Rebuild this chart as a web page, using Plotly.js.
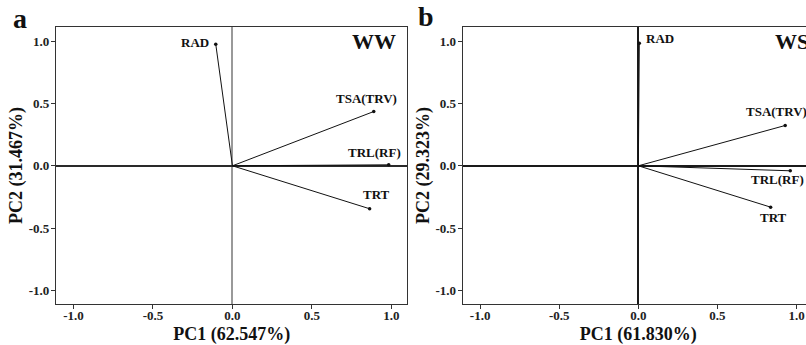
<!DOCTYPE html>
<html><head><meta charset="utf-8">
<script src="https://cdn.plot.ly/plotly-3.0.1.min.js"></script>
<style>html,body{margin:0;padding:0;overflow:hidden;background:#fff}#chart{width:830px;height:345px}</style>
</head><body><div id="chart"></div><script>
// ---- data ----
const variables = ['RAD', 'TSA(TRV)', 'TRL(RF)', 'TRT'];
const pc1_WW = [-0.105, 0.889, 0.983, 0.863];
const pc2_WW = [0.977, 0.436, 0.008, -0.345];
const pc1_WS = [0.006, 0.928, 0.960, 0.836];
const pc2_WS = [0.985, 0.324, -0.040, -0.332];
const tickVals = [-1, -0.5, 0, 0.5, 1];
const tickText = ['-1.0', '-0.5', '0.0', '0.5', '1.0'];
const panelLetters = ['a', 'b'];
const conditions = ['WW', 'WS'];
const xTitles = ['PC1 (62.547%)', 'PC1 (61.830%)'];
const yTitles = ['PC2 (31.467%)', 'PC2 (29.323%)'];

// ---- styling ----
const FONT = 'Liberation Serif, Times New Roman, serif';
const INK = '#111';
const labelStyle = [
  [ {xanchor:'right', xshift:-5, yshift:2}, {xanchor:'center', xshift:-7, yshift:13},
    {xanchor:'center', xshift:-14, yshift:12.6}, {xanchor:'center', xshift:7, yshift:14} ],
  [ {xanchor:'left', xshift:5, yshift:4.5}, {xanchor:'center', xshift:-8.5, yshift:14.3},
    {xanchor:'center', xshift:-13, yshift:-8.3}, {xanchor:'center', xshift:2.7, yshift:-10} ]
];
const W = 830;
const xDomains = [[56 / W, 407.3 / W], [462.7 / W, 814 / W]];
const xRanges = [[-1.11, 1.10], [-1.11, 1.11]];
const yDomain = [41 / 345, 318 / 345];
const yRange = [-1.11, 1.115];
const vZeroColor = ['#999999', '#1a1a1a'];
const vZeroWidth = [2, 1.5];
const hZeroColor = ['#2a2a2a', '#1a1a1a'];

const series = [[pc1_WW, pc2_WW], [pc1_WS, pc2_WS]];
const traces = [];
const annotations = [];
const layout = {
  width: W, height: 345,
  margin: {l: 0, r: 0, t: 0, b: 0},
  paper_bgcolor: '#fff', plot_bgcolor: '#fff',
  showlegend: false,
  font: {family: FONT, color: INK, weight: 'bold'},
};

series.forEach(([px, py], p) => {
  const xa = p === 0 ? 'x' : 'x2';
  const ya = p === 0 ? 'y' : 'y2';
  variables.forEach((v, i) => {
    traces.push({type: 'scatter', mode: 'lines', xaxis: xa, yaxis: ya,
      x: [0, px[i]], y: [0, py[i]], line: {color: INK, width: 1}, hoverinfo: 'skip'});
    const s = labelStyle[p][i];
    annotations.push({xref: xa, yref: ya, x: px[i], y: py[i], text: v, showarrow: false,
      xanchor: s.xanchor, yanchor: 'middle', xshift: s.xshift, yshift: s.yshift,
      font: {family: FONT, size: 13, color: INK, weight: 'bold'}});
  });
  traces.push({type: 'scatter', mode: 'markers', xaxis: xa, yaxis: ya, x: px, y: py,
    marker: {color: INK, size: 3.5}, text: variables, hoverinfo: 'text'});

  const axisCommon = {
    tickmode: 'array', tickvals: tickVals, ticktext: tickText,
    ticks: 'outside', ticklen: 4, tickwidth: 1, tickcolor: '#333',
    showline: true, mirror: true, linecolor: '#333', linewidth: 1.2,
    showgrid: false, zeroline: true,
    tickfont: {family: FONT, size: 13, color: '#222', weight: 'bold'},
    fixedrange: true,
  };
  layout[p === 0 ? 'xaxis' : 'xaxis2'] = Object.assign({}, axisCommon, {
    domain: xDomains[p], range: xRanges[p], anchor: ya,
    zerolinecolor: vZeroColor[p], zerolinewidth: vZeroWidth[p], ticklabelstandoff: -5,
    title: {text: xTitles[p], standoff: 10, font: {family: FONT, size: 18, color: INK, weight: 'bold'}},
  });
  layout[p === 0 ? 'yaxis' : 'yaxis2'] = Object.assign({}, axisCommon, {
    domain: yDomain, range: yRange, anchor: xa,
    zerolinecolor: hZeroColor[p], zerolinewidth: 1.5, ticklabelstandoff: -1,
    title: {text: yTitles[p], standoff: 1, font: {family: FONT, size: 18, color: INK, weight: 'bold'}},
  });

  annotations.push({xref: xa + ' domain', yref: ya + ' domain',
    x: p === 0 ? 0.9735 : 0.883, y: 0.946, xanchor: p === 0 ? 'right' : 'left', yanchor: 'middle',
    text: conditions[p], showarrow: false,
    font: {family: FONT, size: 22, color: INK, weight: 'bold'}});
  annotations.push({xref: 'paper', yref: 'paper',
    x: p === 0 ? 20 / W : 426 / W, y: p === 0 ? (345 - 19) / 345 : (345 - 16) / 345,
    xanchor: 'center', yanchor: 'middle', text: panelLetters[p], showarrow: false,
    font: {family: FONT, size: 28, color: INK, weight: 'bold'}});
});
layout.annotations = annotations;

Plotly.newPlot('chart', traces, layout, {displayModeBar: false, staticPlot: false});
</script></body></html>
